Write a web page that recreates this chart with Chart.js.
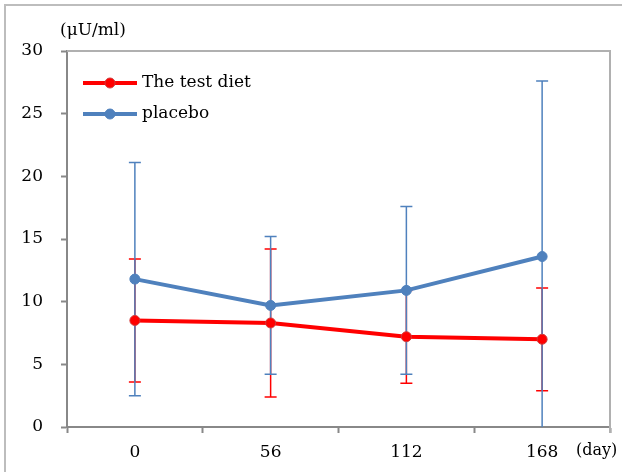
<!DOCTYPE html>
<html lang="en">
<head>
  <meta charset="UTF-8">
  <title>Insulin by day</title>
  <script src="https://cdn.jsdelivr.net/npm/chart.js"></script>
  <style>
    html, body {
      margin: 0;
      padding: 0;
      background: #fff;
    }
    .frame {
      position: absolute;
      left: 4px;
      top: 4px;
      width: 700px;
      height: 600px;
      border-top: 2px solid #bdbdbd;
      border-left: 2px solid #bdbdbd;
    }
    .chart-box {
      position: absolute;
      left: 0;
      top: 0;
      width: 622px;
      height: 472px;
    }
  </style>
</head>
<body>
  <div class="frame"></div>
  <div class="chart-box">
    <canvas id="insulinChart" width="622" height="472"></canvas>
  </div>

  <script>
    const days = ['0', '56', '112', '168'];
    const testDiet = [8.5, 8.3, 7.2, 7.0];
    const testDietSD = [4.9, 5.9, 3.7, 4.1];
    const placebo = [11.8, 9.7, 10.9, 13.6];
    const placeboSD = [9.3, 5.5, 6.7, 14.0];
    const yTicks = [0, 5, 10, 15, 20, 25, 30];

    const RED = '#ff0000';
    const BLUE = '#4f81bd';
    const FONT = 'DejaVu Serif';

    // error bars drawn under the lines, using the chart's scales
    const errorBars = {
      id: 'errorBars',
      beforeDatasetsDraw(chart) {
        const { ctx, chartArea, scales } = chart;
        ctx.save();
        ctx.beginPath();
        ctx.rect(chartArea.left, chartArea.top, chartArea.right - chartArea.left, chartArea.bottom - chartArea.top);
        ctx.clip();
        chart.data.datasets.forEach((ds) => {
          ctx.strokeStyle = ds.borderColor;
          ctx.lineWidth = 1.5;
          ds.data.forEach((v, i) => {
            const x = scales.x.getPixelForValue(i);
            const hi = scales.y.getPixelForValue(v + ds.sd[i]);
            const lo = scales.y.getPixelForValue(v - ds.sd[i]);
            ctx.beginPath();
            ctx.moveTo(x, hi);
            ctx.lineTo(x, lo);
            ctx.moveTo(x - 6, hi);
            ctx.lineTo(x + 6, hi);
            ctx.moveTo(x - 6, lo);
            ctx.lineTo(x + 6, lo);
            ctx.stroke();
          });
        });
        ctx.restore();
      }
    };

    // plot frame (top/right), legend inside the plot, unit labels
    const extras = {
      id: 'extras',
      afterDraw(chart) {
        const { ctx, chartArea } = chart;
        ctx.save();
        ctx.strokeStyle = '#b0b0b0';
        ctx.lineWidth = 2;
        ctx.beginPath();
        ctx.moveTo(chartArea.left, chartArea.top);
        ctx.lineTo(chartArea.right, chartArea.top);
        ctx.lineTo(chartArea.right, chartArea.bottom + 6);
        ctx.stroke();

        ctx.font = '17px "' + FONT + '"';
        ctx.textBaseline = 'middle';
        ctx.textAlign = 'left';
        chart.data.datasets.forEach((ds, i) => {
          const y = chartArea.top + 32 + i * 31;
          const x0 = chartArea.left + 16;
          ctx.strokeStyle = ds.borderColor;
          ctx.lineWidth = 4;
          ctx.beginPath();
          ctx.moveTo(x0, y);
          ctx.lineTo(x0 + 54, y);
          ctx.stroke();
          ctx.fillStyle = ds.pointBackgroundColor;
          ctx.strokeStyle = ds.pointBorderColor;
          ctx.lineWidth = 1;
          ctx.beginPath();
          ctx.arc(x0 + 27, y, 5, 0, Math.PI * 2);
          ctx.fill();
          ctx.stroke();
          ctx.fillStyle = '#000';
          ctx.fillText(ds.label, x0 + 59, y);
        });

        ctx.fillStyle = '#000';
        ctx.fillText('(μU/ml)', 60, 31);
        ctx.font = '16px "' + FONT + '"';
        ctx.fillText('(day)', 576, 451);
        ctx.restore();
      }
    };

    new Chart(document.getElementById('insulinChart'), {
      type: 'line',
      data: {
        labels: days,
        datasets: [{
          label: 'The test diet',
          data: testDiet,
          sd: testDietSD,
          borderColor: RED,
          backgroundColor: RED,
          borderWidth: 4,
          pointRadius: 5,
          pointBorderWidth: 1,
          pointBorderColor: '#d03a3a',
          pointBackgroundColor: RED,
          tension: 0
        }, {
          label: 'placebo',
          data: placebo,
          sd: placeboSD,
          borderColor: BLUE,
          backgroundColor: BLUE,
          borderWidth: 4,
          pointRadius: 5,
          pointBorderWidth: 1,
          pointBorderColor: BLUE,
          pointBackgroundColor: BLUE,
          tension: 0
        }]
      },
      options: {
        responsive: false,
        animation: false,
        layout: {
          padding: { left: 0, top: 51, right: 12, bottom: 0 }
        },
        plugins: {
          tooltip: { enabled: false },
          legend: { display: false }
        },
        scales: {
          x: {
            type: 'category',
            offset: true,
            afterFit(scale) { scale.height = 45; },
            grid: {
              offset: true,
              drawOnChartArea: false,
              drawTicks: true,
              tickLength: 6,
              tickWidth: 2,
              color: '#888'
            },
            border: { color: '#888', width: 2 },
            ticks: {
              color: '#000',
              padding: 9,
              font: { family: FONT, size: 17 }
            }
          },
          y: {
            min: 0,
            max: 30,
            afterFit(scale) { scale.width = 67; },
            afterBuildTicks(scale) {
              scale.ticks = yTicks.map(v => ({ value: v }));
            },
            grid: {
              drawOnChartArea: false,
              drawTicks: true,
              tickLength: 6,
              tickWidth: 2,
              color: '#888'
            },
            border: { color: '#888', width: 2 },
            ticks: {
              color: '#000',
              padding: 18,
              font: { family: FONT, size: 17 }
            }
          }
        }
      },
      plugins: [errorBars, extras]
    });
  </script>
</body>
</html>
